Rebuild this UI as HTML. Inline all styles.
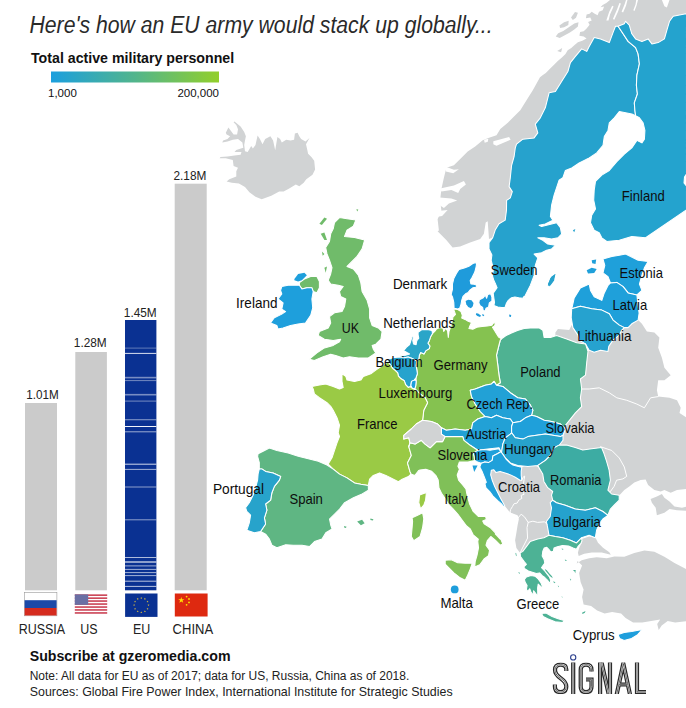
<!DOCTYPE html>
<html><head><meta charset="utf-8">
<style>
html,body{margin:0;padding:0;background:#fff;}
body{width:686px;height:708px;overflow:hidden;}
svg{display:block;font-family:"Liberation Sans",sans-serif;}
</style></head><body>
<svg width="686" height="708" viewBox="0 0 686 708">
<defs>
<linearGradient id="lg" x1="0" x2="1" y1="0" y2="0">
<stop offset="0" stop-color="#1B9FDE"/><stop offset="0.5" stop-color="#52B58C"/><stop offset="1" stop-color="#92CF2B"/>
</linearGradient>
</defs>
<rect width="686" height="708" fill="#fff"/>
<!-- MAP -->
<g fill="#D1D3D4" stroke="none">
<path d="M234.5 121.4 L240.6 126.6 L244.2 131.9 L245.9 136.3 L245 140.6 L244.2 145 L245 151.2 L247.7 152 L251.2 145.9 L252.9 148.5 L255.5 145 L257.6 135.4 L259.9 138.9 L262.5 144.2 L265.2 138.9 L270.4 136.3 L273.1 140.6 L275.2 150.3 L277.4 137.1 L280.1 138.9 L281.8 142.4 L286.2 139.8 L290.6 140.6 L294.1 139.8 L294.9 133.6 L297.6 132.8 L299.3 136.3 L301.1 138.9 L305.5 141.5 L309.5 138 L306 144.2 L307.2 149.4 L308.1 153.8 L311.6 157.3 L314.2 160.8 L315.1 169.5 L312.5 174.8 L306.3 179.2 L303.7 182.7 L299.3 186.2 L295.8 184.4 L288.8 188.8 L283.6 191.4 L279.2 191.4 L271.3 195.8 L261.7 199.3 L255.5 196.7 L249.4 192.3 L245 187.1 L238.9 183.6 L231.9 182.7 L226.6 181.5 L229.3 179.2 L236.3 176.6 L236.3 171.3 L238 167.8 L233.6 166 L232.8 159.9 L225.8 158.2 L219.6 158.2 L220.5 156.9 L227.5 156.4 L234.5 155.5 L240.6 154.7 L241.5 152 L234.5 152 L236.3 149.9 L243.3 147.7 L242.4 142.4 L238 138.9 L232.8 139.8 L227.5 141.5 L222.3 142.4 L223.1 140.6 L227.5 138.9 L230.1 136.3 L226.6 134.5 L225.8 132.8 L228.4 127.5 L231 131 L233.6 134.5 L237.1 134.5 L238 129.3 L236.3 124.9 L233.6 122.3Z"/>
<path d="M610 0 L606.3 2.9 L602.7 5.1 L600.5 7.3 L604.1 6.6 L602.7 10.2 L599 11.7 L597.6 15.3 L594.7 13.8 L591.7 11.7 L589.6 13.8 L586.6 14.6 L585.9 18.2 L590.3 17.5 L591.7 20.4 L588.1 21.9 L589.6 24.8 L586.6 28.4 L583.7 31.3 L580.1 32.1 L579.4 35.7 L583.7 36.4 L586.6 38.6 L582.3 40.8 L577.9 42.3 L574.3 45.2 L571.3 48.1 L567.7 50.3 L565.5 53.9 L561.9 57.6 L557.5 61.2 L553.8 64.9 L550.2 68.5 L545.8 72.9 L542.9 75.1 L540 77.3 L532.8 90.3 L526.5 100.3 L520.3 110.3 L514 116.6 L507.8 122.7 L500.3 129 L496.5 135.2 L489 137.7 L482.7 140.2 L475.2 146.5 L467.7 151.5 L460.2 159 L453.9 165.3 L446.4 167.8 L443.9 177.8 L441.4 189.1 L440.1 200.4 L441.4 210.4 L437.6 219.2 L438.9 230.5 L437.6 231.3 L446.3 240.1 L452.6 247.6 L460.1 246.4 L470.1 242.6 L480.2 238.9 L483.9 233.8 L485.7 222.6 L487.7 221.3 L489 238.9 L492.7 237.6 L495.2 230.1 L499 223.8 L505.2 220.1 L506.5 210 L506.6 200.4 L510.3 197.9 L512.3 191.6 L509.1 186.6 L510.3 177.8 L511.6 165.3 L514.1 156.5 L515.3 147.8 L516.5 144.2 L522.8 139.2 L534.1 137.9 L537.8 132.9 L535.3 124.1 L540.3 117.8 L545.3 107.8 L549.1 92.8 L555.4 91.5 L561.6 81.5 L567.9 71.5 L570.4 62.7 L575.4 56.4 L581.7 48.9 L586.7 51.4 L589.2 46.4 L594.2 37.6 L600.5 38.9 L609.3 42.6 L613 32.6 L615.5 26.3 L618.1 26.3 L624.3 23.8 L625.6 21.3 L629.3 25.1 L631.8 33.8 L635.6 38.9 L641.9 41.4 L648.1 38.9 L651.9 43.9 L658.2 42.6 L664.4 38.9 L666.9 30.1 L669.5 21.3 L673.2 16.3 L679.5 15 L686 13.8 L686 0Z"/>
<path d="M555.4 332.6 L557.9 328.9 L569.2 330.1 L571.7 325.1 L574.2 330.1 L577.9 335.1 L579.2 340.1 L585.5 343.9 L576.7 342.7 L566.7 338.9 L555.4 336.4Z"/>
<path d="M521.8 480.2 L521.2 475.5 L521.2 471.4 L521.8 467.3 L525.9 465.6 L534.1 465.3 L537.6 466.7 L542.7 473.9 L543.9 481.4 L547.7 487.7 L552.7 491.5 L551.5 495.2 L552.7 500.2 L550.2 502.7 L551.5 507.8 L550.2 516.5 L546.4 521.5 L547.7 527.8 L549 535.3 L543.9 537.8 L537.7 539.1 L530.1 541.6 L526.4 546.6 L522.6 551.6 L520.1 552.9 L516.4 547.9 L515.1 540.3 L516.4 532.8 L517.6 525.3 L518.9 519 L517.6 515.3 L510 512.4 L504.8 506 L503.6 503.7 L500.7 498.4 L497.7 492.5 L494.8 486.7 L492.4 480.8 L490.7 474.9 L491.3 470.2 L493.6 469.7 L496 472.6 L500.1 471.4 L505.9 473.2 L510.6 474.9 L515.3 477.3 L520 480.2 L521.8 480.2Z"/>
<path d="M624.3 327.6 L628.1 327.6 L631.8 323.8 L638.1 320.1 L641.9 323.8 L646.9 331.4 L654.4 332.6 L659.4 337.6 L658.2 347.7 L661.9 357.7 L664.4 367.7 L670.7 375.2 L664.4 380.3 L658.2 380.3 L656.9 390.3 L658.2 396.6 L669.5 397.8 L677 400.3 L680.7 407.8 L679.5 412.9 L687 417.9 L687 488.9 L677 490.1 L670.7 492.7 L664.4 490.1 L660.7 491.4 L654.4 490.1 L648.1 485.1 L645.6 479.6 L640.6 480.1 L634.3 482.6 L629.3 486.4 L624.3 490.1 L620.6 493.9 L619.2 495.2 L611.6 494 L607.9 490.2 L610.4 480.2 L609.1 470.1 L606.6 461.4 L604.1 453.8 L601.6 447.6 L601.6 447.6 L591.6 448.8 L582.8 450.1 L575.3 447.6 L566.5 445.1 L559 445.1 L563 440.3 L563 435.3 L565.5 429 L565.4 425.4 L570.4 419.1 L575.4 412.9 L581.7 406.6 L580.4 397.8 L581.7 389 L580.4 379 L585.5 375.2 L586.7 362.7 L588 351.4 L589.2 350.2 L594.2 352.2 L600.5 350.2 L608 351.4 L608.8 346.4 L613 340.1 L619.3 335.1 L621.8 330.1Z"/>
<path d="M650.6 498.9 L656.9 496.4 L661.9 493.9 L664.4 497.7 L669.5 501.4 L674.5 506.4 L682 507.7 L687 506.4 L687 510.7 L677 510.2 L669.5 509 L664.4 512.7 L656.9 515.2 L655.7 507.7 L651.9 502.7Z"/>
<path d="M581.7 539 L589.2 536.5 L595.5 537.8 L598 542.8 L603 547.8 L609.3 552.3 L610.8 554.8 L601.8 552.6 L591.7 552.6 L584.2 553.8 L578.7 556.1 L577.9 552.8 L579.2 547.8 L581.7 542.8Z"/>
<path d="M576.7 563.4 L581.7 560.3 L589.2 558.3 L596.7 557.3 L606.8 558.3 L614.3 556.6 L624.3 556.8 L634.3 553.1 L644.4 550.6 L654.4 551.8 L664.4 556.8 L674.5 563.1 L687 569.4 L687.2 621.1 L675.2 622.6 L667.7 621.1 L661.7 625.6 L658.7 630.1 L657.2 624.1 L660.2 619.6 L651.2 621.1 L642.2 622.6 L633.1 622.6 L625.6 618.1 L621.1 613.6 L612.1 612.1 L604.6 613.6 L597.1 610.6 L591.1 606.1 L583.6 604.6 L582.1 597.1 L583.6 589.5 L580.6 582 L579.1 573 L582.1 565.5 L577.6 561Z"/>
</g>
<g fill="#D1D3D4" stroke="none">
<path d="M555.7 36.4 L558.2 33.2 L563.3 30.9 L568.4 27.4 L574.3 23.6 L578.5 22.2 L577.9 26.5 L574.3 29.4 L569.9 32.4 L564.8 35.3 L559.7 37.9Z"/>
<path d="M559.4 25.5 L564.1 22.3 L568.7 20.8 L568.3 25.1 L564.1 27.3 L560.1 28Z"/>
<path d="M571 17.5 L575 12.1 L577.9 12.8 L576 17.8 L572.8 20Z"/>
<path d="M557.2 51 L562.2 48.1 L561.1 52.2Z"/>
</g>
<g stroke="#fff" stroke-width="1.05" stroke-linejoin="round">
<path fill="#26A2CD" d="M492.7 237.6 L495.2 230.1 L499 223.8 L505.2 220.1 L506.5 210 L506.6 200.4 L510.3 197.9 L512.3 191.6 L509.1 186.6 L510.3 177.8 L511.6 165.3 L514.1 156.5 L515.3 147.8 L516.5 144.2 L522.8 139.2 L534.1 137.9 L537.8 132.9 L535.3 124.1 L540.3 117.8 L545.3 107.8 L549.1 92.8 L555.4 91.5 L561.6 81.5 L567.9 71.5 L570.4 62.7 L575.4 56.4 L581.7 48.9 L586.7 51.4 L589.2 46.4 L594.2 37.6 L600.5 38.9 L609.3 42.6 L613 32.6 L615.5 26.3 L618.1 26.3 L623.1 33.8 L628.1 41.4 L635.6 47.6 L638.1 53.9 L639.4 63.9 L636.9 75.2 L636.4 85.2 L637.4 94 L634.3 102.8 L634.9 110.3 L635.6 115.8 L631.8 114.1 L625.6 112.8 L619.3 111.6 L614.3 117.8 L609.3 122.9 L608 130.4 L604.3 136.6 L603 145.4 L596.7 152.9 L589.2 158 L579.2 163 L571.7 168 L565.4 170.5 L562.9 177.6 L559.1 180.1 L556.6 187.6 L554.1 195.1 L551.6 205.2 L550.4 216.4 L552.9 220.2 L545.3 224 L539.1 225.2 L541.6 226.5 L551.6 224 L556.6 222.7 L560.4 227.7 L561.6 234 L557.9 237.8 L551.6 239 L544.1 237.8 L537.8 237.8 L542.8 240.3 L547.8 244 L555.4 245.3 L551.6 249 L546.6 250.3 L541.6 252.8 L534.1 254.1 L537.8 257.8 L535.3 265.3 L534.1 275.4 L530.3 285.4 L524 297.9 L524.1 296.4 L522.8 298.3 L518.8 297.7 L514.9 297 L511.6 297.7 L508.3 300.3 L506.3 303.6 L505 307.5 L501.7 307.5 L497.8 306.9 L493.9 305.6 L494.5 302.3 L493.9 298.3 L493.2 293.1 L495.2 290.5 L497.1 287.8 L495.8 284.6 L493.9 280.6 L492.5 276 L493.2 270.8 L492.5 265.5 L491.2 260.3 L491.9 255 L489 248.9 L489 242.6 L492.7 237.6Z"/>
<path fill="#26A2CD" stroke="none" d="M547.9 284 L551.6 276.5 L555.4 274 L552.9 281.5 L549.1 286.5Z"/>
<path fill="#26A2CD" stroke="none" d="M547.8 285.4 L550.4 277.9 L555.4 274.1 L554.1 280.4 L550.4 285.4Z"/>
<path fill="#24A3CE" d="M618.1 26.3 L624.3 23.8 L625.6 21.3 L629.3 25.1 L631.8 33.8 L635.6 38.9 L641.9 41.4 L648.1 38.9 L651.9 43.9 L658.2 42.6 L664.4 38.9 L666.9 30.1 L669.5 21.3 L673.2 16.3 L679.5 15 L686 13.8 L686.5 13.8 L686.5 174 L684.5 177 L684 183 L686.5 186 L686.5 210.2 L686 210.2 L645.6 237.8 L631.8 236.5 L619.3 240.3 L606.8 241.5 L601.8 237.8 L599.2 232.7 L594.2 230.2 L590.5 222.7 L591.7 215.2 L595.5 208.9 L593.7 200.1 L594.2 190.1 L595.5 181.3 L601.8 175.1 L609.3 170.5 L616.8 161.7 L624.3 154.2 L631.8 147.9 L636.9 140.4 L641.9 142.9 L644.4 139.2 L644.9 130.4 L643.1 122.9 L639.4 117.8 L635.6 115.8 L634.9 110.3 L634.3 102.8 L637.4 94 L636.4 85.2 L636.9 75.2 L639.4 63.9 L638.1 53.9 L635.6 47.6 L628.1 41.4 L623.1 33.8 L618.1 26.3Z"/>
<path fill="#24A3CE" stroke="none" d="M572.9 230.2 L575.4 229 L574.2 232.2Z"/>
<path fill="#1FA0DA" d="M603 259.1 L611.8 256.6 L619.3 255.3 L625.6 254.1 L630.6 256.6 L638.1 260.3 L648.1 261.6 L644.4 267.8 L641.9 275.4 L639.4 284.1 L641.9 290.4 L636.9 294.9 L628.1 292.9 L623.1 286.6 L616.8 282.4 L610.5 282.9 L608 276.6 L603 272.9 L604.8 265.3Z"/>
<path fill="#1FA0DA" stroke="none" d="M591.7 260.3 L596.2 259.6 L595.5 264.1 L592.2 263.3Z"/>
<path fill="#1FA0DA" stroke="none" d="M586.7 270.3 L591.7 267.8 L596.7 269.1 L594.2 272.9 L588 273.4Z"/>
<path fill="#1FA0DA" d="M571.7 309.2 L574.2 297.9 L580.4 287.9 L589.2 284.1 L590.5 290.4 L594.2 296.7 L601.8 300.4 L604.3 292.9 L608 285.4 L610.5 282.9 L616.8 282.4 L623.1 286.6 L628.1 292.9 L636.9 294.9 L638.1 305.5 L639.4 315.5 L639.4 311.3 L638.1 320.1 L631.8 323.8 L628.1 327.6 L624.3 327.6 L619.3 325.1 L613 320.1 L609.3 313.8 L601.8 310.1 L591.7 308.8 L580.4 306.3 L571.7 308.8Z"/>
<path fill="#26A2CF" d="M571.7 308.8 L580.4 306.3 L591.7 308.8 L601.8 310.1 L609.3 313.8 L613 320.1 L619.3 325.1 L624.3 327.6 L621.8 330.1 L619.3 335.1 L613 340.1 L608.8 346.4 L608 351.4 L600.5 350.2 L594.2 352.2 L589.2 350.2 L585.5 343.9 L579.2 340.1 L577.9 335.1 L572.9 327.6 L571.2 317.6Z"/>
<path fill="#1F9BDB" d="M476.8 262.2 L476.1 266.8 L474.8 272.1 L472.2 277.3 L470.2 280.6 L470.9 283.9 L474.2 284.2 L476.8 285.2 L476.1 287.2 L472.8 287.8 L470.2 289.8 L468.2 292.4 L465.6 293.8 L463 296.4 L461.7 300.3 L461 304.3 L459.7 308.2 L457.7 309.1 L454.1 308.2 L453.8 302.3 L452.5 297 L451.2 294.4 L452.5 289.2 L452.5 283.9 L453.8 278.6 L456.4 273.4 L459 269.4 L464.3 268.1 L468.9 266.2 L472.8 263.5Z"/>
<path fill="#1F9BDB" stroke="none" d="M465.6 301 L468.2 299.7 L471.5 300.3 L473.5 302.9 L472.8 306.2 L470.9 308.2 L468.2 306.9 L466.3 304.3Z"/>
<path fill="#1F9BDB" d="M479.4 299.7 L483.3 297.7 L485.3 295.1 L486.6 298.3 L487.9 294.4 L490.6 293.8 L491.9 297 L491.9 301 L489.3 302.9 L488.6 306.9 L486 308.2 L485.3 310.8 L483.3 310.8 L482.7 307.5 L480.1 305.6 L478.8 302.9Z"/>
<path fill="#1F9BDB" stroke="none" d="M476.1 313.2 L478.1 313.6 L481 315.4 L480.1 317 L477.4 315.9 L475.9 314.8Z"/>
<path fill="#1F9BDB" stroke="none" d="M482.3 314.1 L484.3 315 L483.5 316.3 L482.3 315.4Z"/>
<path fill="#1F9BDB" stroke="none" d="M509.1 314.5 L511.2 315 L510.9 317 L509.4 316.7Z"/>
<path fill="#4FB292" d="M501.5 338.8 L505.7 335.8 L510.9 333.2 L517.5 330.5 L524.1 328.6 L530.3 327.9 L539.1 327.9 L542.9 330.4 L544.1 337.4 L550.4 337.4 L556.6 335.4 L566.7 338.9 L576.7 342.7 L585.5 343.9 L588 351.4 L586.7 362.7 L585.5 375.2 L580.4 379 L581.7 389 L580.4 397.8 L581.7 406.6 L575.4 412.9 L570.4 419.1 L565.4 425.4 L565.5 429 L560.5 424 L551.7 421.5 L544.2 420.3 L536.6 416.5 L531.6 415.2 L532.9 410.2 L530.4 405.2 L525.4 399 L517.8 397.7 L510.3 392.7 L502.8 386.4 L496.5 385.2 L500.3 382.7 L499 375.1 L497.8 365.1 L496.5 355.1 L499 345 L500.3 340 L501.5 338.8Z"/>
<path fill="#85C250" d="M432.5 333.5 L435.2 330.9 L436.5 328.9 L439.8 327.6 L443.1 328.2 L443.7 331.5 L445.7 328.2 L447.6 330.9 L448.3 337.4 L449 331.5 L450.9 326.3 L452.2 321.7 L452.9 317.1 L455.5 314.4 L453.6 309.2 L453.8 308.9 L457.7 309.5 L461 311.5 L462.3 315.4 L461.7 318.1 L465 319.4 L468.2 321.3 L471.5 322.6 L469.6 326.6 L468.9 328.6 L472.8 329.2 L476.8 327.2 L482 326.6 L487.3 325.9 L491.9 325.3 L493.2 323.3 L495.8 322.6 L494.5 325.9 L492.5 327.2 L494.5 330.5 L496.5 333.8 L498.5 337.1 L501.5 338.8 L500.3 340 L499 345 L496.5 355.1 L497.8 365.1 L499 375.1 L500.3 382.7 L496.5 385.2 L494 381.4 L491.5 383.9 L485.2 385.2 L475.2 388.9 L470.2 390.2 L471.5 396.4 L475.2 404 L480.2 411.5 L485.2 416.5 L477.7 419 L472.7 422.8 L471.5 429 L465.2 430.3 L455.2 429 L446.4 430.3 L441.4 427.8 L437.6 424 L431.3 421.5 L422.6 420.3 L423.8 410.2 L427.6 402.7 L425.1 397.7 L420.1 393.9 L416.3 390.2 L414.8 388.7 L415.7 386 L416.1 382.1 L416.1 380.4 L416.1 377.5 L417.4 373.6 L416.8 369.6 L416.1 365.7 L416.8 361.1 L418.8 359.1 L419.4 355.2 L420.7 352.5 L424 353.9 L426 350.6 L429.3 348.6 L429.9 346 L427.9 343.3 L429.3 340.7 L430.6 336.8 L432.5 333.5Z"/>
<path fill="#2AA5C8" d="M418.1 332.2 L422 329.6 L427.3 329.6 L431.9 330.5 L432.5 333.5 L430.6 336.8 L429.3 340.7 L427.9 343.3 L429.9 346 L429.3 348.6 L426 350.6 L424 353.9 L420.7 352.5 L419.4 355.2 L418.8 359.1 L416.8 361.1 L412.2 358.5 L408.2 357.1 L404.3 357.8 L399.7 357.1 L400.4 355.8 L405.6 355.2 L409.6 353.9 L406.9 352.5 L403.6 350.6 L406.3 347.3 L409.6 344.7 L410.9 340.7 L412.2 336.1 L413.5 336.1 L412.8 340.7 L413.5 344 L416.1 344.7 L416.8 340.7 L418.8 338.1 L418.1 334.8Z"/>
<path fill="#27A3CD" d="M387.9 359.8 L392.5 357.8 L399.7 357.1 L404.3 357.8 L408.2 357.1 L412.2 358.5 L416.8 361.1 L416.1 365.7 L416.8 369.6 L417.4 373.6 L416.1 377.5 L414.2 380.1 L411.5 381.4 L410.9 385.4 L410.2 386.7 L408.2 387.4 L405.6 384.7 L404.3 380.8 L401 378.8 L398.4 376.2 L397.7 372.9 L395.1 370.3 L392.5 368.3 L390.5 365 L387.9 361.7Z"/>
<path fill="#1E9EDC" d="M411.5 381.4 L414.2 380.1 L416.1 380.4 L416.1 382.1 L415.7 386 L414.8 388.7 L412.2 388.3 L410.9 385.4Z"/>
<path fill="#22A1D6" d="M485.2 416.5 L480.2 411.5 L475.2 404 L471.5 396.4 L470.2 390.2 L475.2 388.9 L485.2 385.2 L491.5 383.9 L494 381.4 L496.5 385.2 L502.8 386.4 L510.3 392.7 L517.8 397.7 L525.4 399 L530.4 405.2 L532.9 410.2 L531.6 415.2 L525.4 417.8 L520.3 421.5 L512.8 422.8 L510.3 419 L502.8 417.8 L496.5 415.2 L491.5 417.8 L485.2 416.5Z"/>
<path fill="#22A1D6" d="M441.4 427.8 L446.4 430.3 L455.2 429 L465.2 430.3 L471.5 429 L472.7 422.8 L477.7 419 L485.2 416.5 L491.5 417.8 L496.5 415.2 L502.8 417.8 L510.3 419 L512.8 422.8 L511.6 426.5 L511.6 432.8 L510.3 434.1 L505.3 437.8 L502.8 444.1 L501.5 452.9 L499 447.8 L487.8 449.1 L477.7 450.3 L470.2 445.3 L463.9 440.3 L462.7 436.6 L453.9 436.6 L445.1 436.6 L441.4 434.1Z"/>
<path fill="#1FA0DA" d="M511.6 432.8 L511.6 426.5 L512.8 422.8 L520.3 421.5 L525.4 417.8 L531.6 415.2 L536.6 416.5 L544.2 420.3 L551.7 421.5 L560.5 424 L565.5 429 L563 435.3 L560.5 436.6 L552.9 435.3 L545.4 434.1 L536.6 435.3 L527.9 436.6 L522.9 439.1 L515.3 437.8Z"/>
<path fill="#27A2CC" d="M511.6 432.8 L515.3 437.8 L522.9 439.1 L527.9 436.6 L536.6 435.3 L545.4 434.1 L552.9 435.3 L560.5 436.6 L563 435.3 L563 440.3 L559.2 445.3 L554.2 447.8 L550.4 455.4 L545.4 460.4 L537.9 465.4 L527.9 466.6 L517.8 465.4 L510.3 462.9 L505.3 457.9 L501.5 452.9 L502.8 444.1 L505.3 437.8 L510.3 434.1Z"/>
<path fill="#1FA0DA" d="M473.2 450.9 L478.3 450.2 L484.1 449.5 L490 450.2 L498.7 448.7 L500.9 451.7 L497.3 453.8 L492.9 456 L492.2 460.4 L488.5 462.6 L484.9 461.9 L481.2 463.3 L477.6 461.9 L474.7 460.4 L473.9 456 L473.2 453.1Z"/>
<path fill="#1FA0DA" d="M500.9 451.7 L503.1 454.6 L506 459 L510.4 463.3 L513 465 L516.5 466.1 L521.8 467.3 L521.2 471.4 L521.2 475.5 L521.8 480.2 L520 480.2 L515.3 477.3 L510.6 474.9 L505.9 473.2 L500.1 471.4 L496 472.6 L493.6 469.7 L491.3 470.2 L490.7 474.9 L492.4 480.8 L494.8 486.7 L497.7 492.5 L500.7 498.4 L503.6 503.7 L504.8 506 L503.6 506.6 L501.8 504.2 L497.7 500.7 L493 496 L489.5 491.3 L486 487.8 L484.9 483.7 L486.3 482.3 L484.1 476.4 L482 471.3 L479.8 467 L481.2 463.3 L484.9 461.9 L488.5 462.6 L492.2 460.4 L492.9 456 L497.3 453.8Z"/>
<path fill="#1FA0DA" stroke="none" d="M472.5 465.5 L477.6 465.5 L474.2 472.1Z"/>
<path fill="#70BB6A" d="M339.5 217.6 L347 218.8 L355.8 220.1 L353.3 226.3 L347 230.1 L344.5 236.4 L354.5 237.6 L364.6 240.1 L362.1 248.9 L357 256.4 L352 261.4 L347 266.4 L353.3 269 L358.3 275.2 L360.8 282.7 L362.1 291.5 L367.1 300.3 L369.6 309.1 L369.6 317.8 L372.1 325.4 L378.3 327.9 L382.1 331.6 L380.9 339.2 L375.8 344.2 L372.1 345.4 L373.3 349.2 L375.8 352.9 L368.3 358 L358.3 358 L349.5 356.7 L343.2 358 L335.7 355.5 L330.7 354.2 L323.2 356.7 L314.4 360.5 L309.4 359.2 L316.9 352.9 L324.4 347.9 L333.2 345.4 L339.5 341.7 L340.7 339.2 L333.2 340.4 L324.4 339.2 L318.2 335.4 L319.4 331.6 L328.2 327.9 L330.7 322.9 L329.5 316.6 L334.5 312.8 L342 311.6 L344.5 306.6 L345.8 299 L340.7 296.5 L339.5 291.5 L343.2 286.5 L338.2 285.2 L330.7 284 L328.2 280.2 L330.7 274 L332 267.7 L329.5 260.2 L327 253.9 L325.7 247.6 L329.5 241.4 L330.7 233.8 L333.2 228.8 L334.5 222.6Z"/>
<path fill="#70BB6A" stroke="none" d="M319.4 223.8 L324.4 217.6 L327 218.8 L321.9 225.1Z"/>
<path fill="#70BB6A" stroke="none" d="M320.7 233.8 L324.4 232.6 L327 240.1 L324.4 240.1Z"/>
<path fill="#70BB6A" stroke="none" d="M321.9 251.4 L324.4 253.9 L322.7 255.7Z"/>
<path fill="#70BB6A" stroke="none" d="M324.4 267.7 L327 266.4 L325.7 272.7Z"/>
<path fill="#70BB6A" stroke="none" d="M356.3 209.3 L358.3 209.5 L357.3 211.5Z"/>
<path fill="#70BB6A" d="M299.4 282.7 L304.4 279 L310.7 276.5 L316.9 276.5 L319.4 281.5 L319.4 287.8 L316.9 292.8 L313.2 291.5 L311.9 287.8 L306.9 287.8 L301.9 289 L299.4 285.2Z"/>
<path fill="#1E9FDC" d="M281.8 286.5 L288.1 285.2 L294.4 285.2 L299.4 285.2 L301.9 289 L306.9 287.8 L311.9 287.8 L313.2 291.5 L311.9 299 L312.7 307.8 L310.7 315.3 L305.6 322.9 L298.1 324.1 L290.6 325.4 L283.1 327.9 L278.1 329.1 L276.8 325.4 L270.5 322.9 L274.3 317.8 L281.8 314.1 L285.6 311.6 L281.8 309.1 L283.1 302.8 L278.1 299 L281.8 294 L280.6 290.3Z"/>
<path fill="#1E9FDC" stroke="none" d="M294.4 279 L298.1 274 L304.4 272.7 L306.9 275.2 L301.9 280.2 L298.1 281.5 L294.4 280.2Z"/>
<path fill="#9ACA45" d="M375.8 370.1 L370.8 373.8 L363.3 376.4 L360.8 380.1 L354.5 381.4 L347 380.1 L345.8 376.4 L342 373.8 L342 381.4 L343.2 387.6 L339.5 388.9 L333.2 386.4 L325.7 383.9 L319.4 385.1 L311.9 386.4 L313.2 388.9 L314.4 393.9 L319.4 397.7 L327 402.7 L330.7 406.4 L333.2 410.2 L337 417.7 L339.5 425.2 L338.2 432.8 L339.5 436.5 L337 442.8 L334.5 450.3 L332 457.8 L328.2 464.1 L333.2 469.1 L339.5 474.1 L347 477.9 L354.5 482.9 L360.8 484.2 L368.3 485.4 L369.6 479.2 L373.3 475.4 L379.6 472.9 L385.9 475.4 L393.4 479.2 L398.4 481.7 L402.2 479.2 L408.4 476.6 L412.2 472.9 L411.3 474.2 L410 471.7 L407.5 462.9 L411.3 455.4 L408.8 446.6 L410 442.8 L408.8 437.8 L403.8 439.1 L403.8 435.3 L411.3 429 L416.3 424 L422.6 420.3 L423.8 410.2 L427.6 402.7 L425.1 397.7 L420.1 393.9 L416.3 390.2 L412.2 388.3 L410.2 386.7 L408.2 387.4 L405.6 384.7 L404.3 380.8 L401 378.8 L398.4 376.2 L397.7 372.9 L395.1 370.3 L392.5 368.3 L390.5 365 L387.9 361.7Z"/>
<path fill="#9ACA45" d="M419.6 495.1 L426.4 492.6 L425.6 500.1 L423.8 505.1 L420.6 508.9 L418.8 502.6Z"/>
<path fill="#5FB683" d="M259.3 468.9 L259.3 462.6 L257.6 456.3 L258.1 453.8 L263.1 451.3 L269.4 448.1 L276.9 450.6 L288.2 453.1 L298.2 456.3 L308.2 458.8 L318.3 461.3 L327 465.1 L333.2 469.1 L339.5 474.1 L347 477.9 L354.5 482.9 L360.8 484.2 L368.3 485.4 L368.4 490.2 L362.1 493.9 L353.4 497.7 L344.6 502.7 L339.6 509 L334.6 514 L329.5 519 L330.8 525.3 L332.1 529 L325.8 532.8 L322 539.1 L314.5 541.6 L309.5 546.6 L302 545.3 L293.2 545.3 L285.7 544.8 L276.9 547.8 L271.9 545.3 L269.4 539.1 L265.6 534.1 L260.6 531.5 L265.6 524 L264.4 517.8 L266.9 510.2 L265.6 504 L270.6 500.2 L271.9 492.7 L274.4 486.4 L279.4 480.1 L280.7 476.4 L273.1 473.1 L265.6 471.4 L261.8 468.9Z"/>
<path fill="#5FB683" stroke="none" d="M357.1 521.5 L362.1 519.8 L364.6 523.3 L360.9 525.3Z"/>
<path fill="#5FB683" stroke="none" d="M370.4 518.5 L373.4 519.3 L372.9 520.5 L370.4 520Z"/>
<path fill="#5FB683" stroke="none" d="M344.1 526 L346.6 526.8 L345.8 528 L344.1 527.5Z"/>
<path fill="#27A3CB" d="M259.3 468.9 L261.8 468.9 L265.6 471.4 L273.1 473.1 L280.7 476.4 L279.4 480.1 L274.4 486.4 L271.9 492.7 L270.6 500.2 L265.6 504 L266.9 510.2 L264.4 517.8 L265.6 524 L260.6 531.5 L254.3 532.8 L246.8 530.3 L249.3 522.8 L250.6 515.2 L246.8 511.5 L245.6 507.7 L249.3 502.7 L253.1 495.2 L255.6 487.7 L257.6 480.1 L258.1 473.9Z"/>
<path fill="#80C058" d="M411.3 474.2 L410 471.7 L407.5 462.9 L411.3 455.4 L408.8 446.6 L410 442.8 L415 444.1 L421.3 440.3 L425.1 444.1 L430.1 447.8 L436.4 441.6 L442.6 441.6 L445.1 436.6 L453.9 436.6 L462.7 436.6 L463.9 440.3 L470.2 445.3 L477.7 450.3 L473.2 453.1 L473.9 456 L474.7 460.4 L468.1 461.9 L459.4 461.9 L457.9 466.2 L459.4 469.2 L457.2 475 L458.6 480.1 L462.3 484.5 L465.9 488.8 L466.9 493.9 L468.1 498.3 L469.6 504.1 L473.2 511.4 L478.3 516.5 L485.6 516.5 L486.3 519.4 L482.7 520.9 L484.1 523.8 L490 527.5 L495.8 533.3 L500.2 539.1 L495.3 534 L500.3 537.7 L502.8 544 L500.3 545.2 L495.3 540.2 L490.8 536.5 L487.3 540.7 L486 545.2 L489.5 550.3 L488.5 555.8 L484 559 L479.8 564.8 L474.7 567.1 L475.2 561.5 L477 555.3 L478.5 547.8 L477.8 541.5 L478.3 539.1 L473.2 534.8 L470.3 528.9 L466.6 526 L462.3 520.2 L457.9 514.3 L452.8 508.5 L448.4 504.1 L445.5 499 L441.9 493.9 L439 488.1 L438.2 480.1 L436 475.7 L431.7 471.3 L425.8 469.2 L420 469.9 L418.8 470.4 L415 475.4Z"/>
<path fill="#80C058" d="M445.2 560.3 L451.4 559.8 L457.7 562.8 L465.2 563.3 L472.2 563.3 L470.2 569.1 L467.7 575.3 L465.2 580.3 L460.2 577.8 L453.9 572.8 L448.9 567.8 L445.2 564.1Z"/>
<path fill="#80C058" d="M412.1 517.7 L417.6 515.2 L422.6 512.7 L423.8 518.9 L422.6 527.7 L420.1 536.5 L413.8 540.7 L411.3 536.5 L412.1 527.7 L412.6 521.4Z"/>
<path fill="#3DACA3" d="M559 445.1 L566.5 445.1 L575.3 447.6 L582.8 450.1 L591.6 448.8 L601.6 447.6 L604.1 453.8 L606.6 461.4 L609.1 470.1 L610.4 480.2 L607.9 490.2 L611.6 494 L619.2 495.2 L619.2 500.2 L614.1 505.2 L610.4 509 L607.9 515.3 L602.9 511.5 L595.3 507.8 L585.3 510.3 L575.3 509 L565.2 505.2 L556.5 502.7 L552.7 500.2 L551.5 495.2 L552.7 491.5 L547.7 487.7 L543.9 481.4 L542.7 473.9 L538.9 467.6 L537.9 465.4 L545.4 460.4 L550.4 455.4 L554.2 447.8Z"/>
<path fill="#25A2CD" d="M552.7 500.2 L556.5 502.7 L565.2 505.2 L575.3 509 L585.3 510.3 L595.3 507.8 L602.9 511.5 L607.9 515.3 L602.9 519 L599.1 524.1 L596.6 530.3 L595.3 537.8 L589.1 535.3 L581.5 537.8 L576.5 542.9 L570.3 540.3 L562.7 537.8 L555.2 536.6 L549 535.3 L547.7 527.8 L546.4 521.5 L550.2 516.5 L551.5 507.8 L550.2 502.7Z"/>
<path fill="#4DB295" d="M520.1 552.9 L522.6 551.6 L526.4 546.6 L530.1 541.6 L537.7 539.1 L543.9 537.8 L549 535.3 L555.2 536.6 L562.7 537.8 L570.3 540.3 L576.5 542.9 L581.5 537.8 L582 540.8 L580.9 543.4 L578.3 546 L576.3 549.3 L573.1 548 L568.5 546 L562.5 545.4 L557.3 546.7 L554 548 L553.3 551.3 L550.7 551.9 L548.8 549.3 L546.8 547.3 L544.2 548 L542.8 551.3 L542.2 555.9 L544.2 559.8 L544.8 563.1 L542.8 565.7 L541.5 567.7 L544.2 570.3 L546.8 573.6 L549.4 576.9 L550.7 580.2 L550.1 583.5 L547.4 580.2 L544.8 577.5 L542.2 575.6 L539.6 572.9 L536.3 573.6 L532.3 572.3 L528.4 571 L525.1 569 L523.8 567 L526.4 564.4 L524.4 561.8 L522.5 559.2 L520.5 556.5Z"/>
<path fill="#4DB295" stroke="none" d="M544.8 569 L546.8 570.3 L549.4 573.6 L552 576.2 L552.7 578.2 L550.1 576.2 L547.4 572.9 L545.2 570.3Z"/>
<path fill="#4DB295" d="M524.4 579.5 L526.4 576.9 L531 575.6 L535 576.2 L538.2 578.9 L540.9 582.8 L542.8 587.4 L540.9 586.7 L538.2 584.1 L537.6 588.1 L537.8 596.6 L535.6 593.3 L533.6 590.7 L533 595.3 L531 592 L529.7 588.7 L527.7 591.3 L526.4 589.4 L527.1 585.4 L525.1 582.1Z"/>
<path fill="#4DB295" stroke="none" d="M515.3 552.8 L516.2 553.6 L516.8 556.3 L515.9 555.5Z"/>
<path fill="#4DB295" stroke="none" d="M518.3 572 L519.5 572.6 L520 573.9 L518.9 573.3Z"/>
<path fill="#4DB295" stroke="none" d="M553.3 581.2 L555.3 582.3 L554.9 583.2 L553.5 582.3Z"/>
<path fill="#4DB295" stroke="none" d="M572.8 570.1 L575.7 570.1 L575.3 573.2 L574.4 571.2Z"/>
<path fill="#4DB295" stroke="none" d="M564.9 559.5 L566.7 560.2 L566.2 561 L565 560.5Z"/>
<path fill="#4DB295" stroke="none" d="M561.6 548.4 L563.5 549 L562.9 549.8 L561.8 549.3Z"/>
<path fill="#4DB295" stroke="none" d="M569.8 578.6 L571.2 579.6 L570.7 580.7Z"/>
<path fill="#4DB295" stroke="none" d="M557.7 585.4 L559 586.2 L558.6 587.3Z"/>
<path fill="#4DB295" stroke="none" d="M582 612.7 L585.5 611 L584.9 612.7 L582.5 614.1Z"/>
<path fill="#4DB295" stroke="none" d="M561.2 596.6 L562.8 597 L562.3 597.6Z"/>
<path fill="#4DB295" d="M541.6 613.6 L546.1 613 L552.1 616.6 L558.1 618.7 L564.1 620.5 L562.6 622.6 L555.1 621.7 L547.6 618.7 L543.1 616.6Z"/>
<path fill="#1E9EDC" d="M618.1 634.6 L624.1 632.5 L631.6 631.6 L642.2 629.5 L637.7 634.6 L631.6 638.5 L624.1 640.6 L619.6 638.5Z"/>
<circle cx="454.7" cy="589.4" r="3.9" fill="#1E9EDC" stroke="none"/>
</g>
<g fill="#D1D3D4" stroke="#fff" stroke-width="1.05" stroke-linejoin="round">
<path d="M408.8 446.6 L410 442.8 L408.8 437.8 L403.8 439.1 L403.8 435.3 L411.3 429 L416.3 424 L422.6 420.3 L431.3 421.5 L437.6 424 L441.4 427.8 L441.4 434.1 L445.1 436.6 L442.6 441.6 L436.4 441.6 L430.1 447.8 L425.1 444.1 L421.3 440.3 L415 444.1 L410 442.8Z"/>
</g>
<g fill="none" stroke="#fff" stroke-width="1.0" stroke-linejoin="round" stroke-linecap="round">
<path d="M521.8 480.2 L523.5 476.7 L524.7 476.1 L524.1 479.6 L523.5 483.1 L524.7 487.8 L523.5 492.5 L524.1 494.3 L521.2 495.4 L521.8 498.4 L518.8 500.1 L517.1 503.1 L514.1 503.7 L512.4 506.6 L510.6 509.5 L510 512.4"/>
<path d="M510 512.4 L514.1 515.4 L517.7 518.3 L521.2 514.2 L524.7 517.1 L528.2 522.4 L527 527.7 L527.6 538 L519.9 553.2"/>
<path d="M528.2 522.4 L532.9 521.2 L537.6 522.4 L544.6 521.8 L547 524.2"/>
<path d="M581.7 389 L589.2 389 L599.2 387.8 L609.3 392.8 L616.8 397.8 L626.8 400.3 L636.9 404.1 L644.4 407.8 L650.6 397.8 L658.2 396.6"/>
<path d="M600.5 446.7 L611.8 450.5 L619.3 458 L624.3 467 L626.7 476.4 L622.9 478.9 L616.6 480.2 L614.1 486.4 L610.4 491.5"/>
</g>
<g fill="#fff" stroke="none">
<path d="M606.3 20.4 L609.2 11.7 L612.2 5.8 L613.6 6.6 L610 14.6 L608.5 20.4Z"/>
<path d="M612.9 19 L617.3 8.7 L619.4 2.9 L620.9 3.6 L618 11.7 L614.3 19.7Z"/>
<path d="M621.6 11.7 L624.5 4.4 L626 0 L627.5 0 L626 5.8 L623.1 12.4Z"/>
<path d="M633.3 10.2 L635.5 4.4 L636.2 0 L638 0 L636.5 5.8 L634.5 10.9Z"/>
<path d="M661.9 0 L664.4 6.3 L666.9 7.5 L669.5 0Z"/>
<path d="M493.3 141.2 L509.1 137 L510.6 139.7 L496.5 145.7 L493.3 144.2Z"/>
<path d="M484 139.7 L488.3 138.7 L487.8 141.7 L484.7 142.7Z"/>
<path d="M440.1 188.4 L453.9 185.4 L463.9 180.9 L465.9 184.4 L460.2 189.1 L458.2 192.9 L451.4 189.9 L441.4 191.6Z"/>
<path d="M439.6 197.4 L451.4 198.4 L457.2 200.4 L448.9 203.4 L443.9 207.9 L440.1 205.4Z"/>
<path d="M437.6 210.9 L447.6 209.9 L442.1 216 L437.6 216.7Z"/>
<path d="M445.1 166.6 L453.9 169.8 L458.9 169.3 L453.2 173.3 L445.9 171.6Z"/>
</g>
<!-- map labels -->
<g font-size="14" fill="#0d0d0d">
<text transform="translate(621.8,200.7) scale(0.935,1)">Finland</text>
<text transform="translate(490.8,274.5) scale(0.922,1)">Sweden</text>
<text transform="translate(619.6,277.7) scale(0.927,1)">Estonia</text>
<text transform="translate(612.5,310.0) scale(0.931,1)">Latvia</text>
<text transform="translate(577.2,341.4) scale(0.955,1)">Lithuania</text>
<text transform="translate(392.9,289) scale(0.958,1)">Denmark</text>
<text transform="translate(236.1,307.9) scale(0.967,1)">Ireland</text>
<text transform="translate(341.8,332.5) scale(0.887,1)">UK</text>
<text transform="translate(383.2,327.8) scale(0.954,1)">Netherlands</text>
<text transform="translate(375.4,366.9) scale(0.934,1)">Belgium</text>
<text transform="translate(433.6,370.1) scale(0.938,1)">Germany</text>
<text transform="translate(378.6,398.2) scale(0.948,1)">Luxembourg</text>
<text transform="translate(520.2,377.1) scale(0.926,1)">Poland</text>
<text transform="translate(466.6,408.9) scale(0.908,1)">Czech Rep.</text>
<text transform="translate(357.0,429) scale(0.933,1)">France</text>
<text transform="translate(465.8,438.9) scale(0.933,1)">Austria</text>
<text transform="translate(545.4,432.5) scale(0.930,1)">Slovakia</text>
<text transform="translate(504.1,454) scale(0.960,1)">Hungary</text>
<text transform="translate(437.6,459.8) scale(0.927,1)">Slovenia</text>
<text transform="translate(549.9,484.7) scale(0.922,1)">Romania</text>
<text transform="translate(498.1,492) scale(0.929,1)">Croatia</text>
<text transform="translate(212.9,494.2) scale(0.981,1)">Portugal</text>
<text transform="translate(289.5,503.6) scale(0.933,1)">Spain</text>
<text transform="translate(444.6,503.6) scale(0.894,1)">Italy</text>
<text transform="translate(552.8,527) scale(0.937,1)">Bulgaria</text>
<text transform="translate(440.4,607.7) scale(0.950,1)">Malta</text>
<text transform="translate(516.6,608.9) scale(0.933,1)">Greece</text>
<text transform="translate(572.8,640.4) scale(0.946,1)">Cyprus</text>
</g>
<!-- title -->
<text transform="translate(29.5,33) scale(0.891,1)" font-size="23.8" font-style="italic" fill="#2a2a2a">Here's how an EU army would stack up globally...</text>
<!-- legend -->
<text transform="translate(31,63) scale(1.0,1)" font-size="14.2" font-weight="bold" fill="#111">Total active military personnel</text>
<rect x="51" y="71.5" width="168" height="11" fill="url(#lg)"/>
<g font-size="11.5" fill="#111">
<text x="48" y="97">1,000</text>
<text x="219" y="97" text-anchor="end">200,000</text>
</g>
<!-- bars -->
<g fill="#CBCBCB">
<rect x="25" y="403" width="32" height="187.3"/>
<rect x="75.3" y="352" width="31.6" height="238.3"/>
<rect x="174.7" y="183.7" width="32" height="406.6"/>
</g>
<rect x="125" y="320" width="31.4" height="270.3" fill="#0A3192"/>
<g stroke="#fff" fill="none">
<line x1="125" x2="156.4" y1="348.1" y2="348.1" stroke-width="0.8" stroke-opacity="0.45"/>
<line x1="125" x2="156.4" y1="353.4" y2="353.4" stroke-width="0.9" stroke-opacity="0.95"/>
<line x1="125" x2="156.4" y1="377.6" y2="377.6" stroke-width="1.6" stroke-opacity="0.45"/>
<line x1="125" x2="156.4" y1="380.6" y2="380.6" stroke-width="0.8" stroke-opacity="0.55"/>
<line x1="125" x2="156.4" y1="394.7" y2="394.7" stroke-width="1.6" stroke-opacity="0.45"/>
<line x1="125" x2="156.4" y1="401.1" y2="401.1" stroke-width="0.8" stroke-opacity="0.55"/>
<line x1="125" x2="156.4" y1="419.7" y2="419.7" stroke-width="1.2" stroke-opacity="0.45"/>
<line x1="125" x2="156.4" y1="426.5" y2="426.5" stroke-width="1.0" stroke-opacity="0.95"/>
<line x1="125" x2="156.4" y1="431.8" y2="431.8" stroke-width="1.0" stroke-opacity="0.6"/>
<line x1="125" x2="156.4" y1="464.2" y2="464.2" stroke-width="0.9" stroke-opacity="0.9"/>
<line x1="125" x2="156.4" y1="469.4" y2="469.4" stroke-width="0.9" stroke-opacity="0.7"/>
<line x1="125" x2="156.4" y1="487" y2="487" stroke-width="0.9" stroke-opacity="0.6"/>
<line x1="125" x2="156.4" y1="519.8" y2="519.8" stroke-width="0.9" stroke-opacity="0.6"/>
<line x1="125" x2="156.4" y1="557.5" y2="557.5" stroke-width="0.9" stroke-opacity="0.75"/>
<line x1="125" x2="156.4" y1="562" y2="562" stroke-width="1.8" stroke-opacity="0.6"/>
<line x1="125" x2="156.4" y1="565.9" y2="565.9" stroke-width="0.9" stroke-opacity="0.7"/>
<line x1="125" x2="156.4" y1="569.4" y2="569.4" stroke-width="0.9" stroke-opacity="0.7"/>
<line x1="125" x2="156.4" y1="572.6" y2="572.6" stroke-width="0.9" stroke-opacity="0.7"/>
<line x1="125" x2="156.4" y1="575.6" y2="575.6" stroke-width="0.9" stroke-opacity="0.7"/>
<line x1="125" x2="156.4" y1="581.2" y2="581.2" stroke-width="0.9" stroke-opacity="0.8"/>
<line x1="125" x2="156.4" y1="586.4" y2="586.4" stroke-width="0.9" stroke-opacity="0.8"/>
</g>
<g font-size="13.6" fill="#222" text-anchor="middle">
<text transform="translate(42.5,398.7) scale(0.86,1)">1.01M</text>
<text transform="translate(90.3,347.2) scale(0.87,1)">1.28M</text>
<text transform="translate(140.3,317) scale(0.87,1)">1.45M</text>
<text transform="translate(189.9,179.7) scale(0.87,1)">2.18M</text>
</g>
<!-- flags -->
<g>
<rect x="24.3" y="592.4" width="32.6" height="23.4" fill="#fff" stroke="#999" stroke-width="0.6"/>
<rect x="24.6" y="600.2" width="32" height="7.8" fill="#1C49A8"/>
<rect x="24.6" y="608" width="32" height="7.5" fill="#D52B1E"/>
</g>
<g>
<rect x="74.8" y="594.4" width="32.4" height="19.3" fill="#fff"/>
<g fill="#C8374A">
<rect x="74.8" y="594.4" width="32.4" height="1.5"/><rect x="74.8" y="597.4" width="32.4" height="1.5"/><rect x="74.8" y="600.3" width="32.4" height="1.5"/><rect x="74.8" y="603.3" width="32.4" height="1.5"/><rect x="74.8" y="606.3" width="32.4" height="1.5"/><rect x="74.8" y="609.2" width="32.4" height="1.5"/><rect x="74.8" y="612.2" width="32.4" height="1.5"/>
</g>
<rect x="74.8" y="594.4" width="13.4" height="10.4" fill="#6A6FA4"/>
</g>
<g>
<rect x="125.1" y="593.5" width="32.4" height="23.4" fill="#0A3192"/>
<g fill="#E9C63A"><polygon points="148.50,604.10 148.75,604.86 149.55,604.86 148.90,605.33 149.15,606.09 148.50,605.62 147.85,606.09 148.10,605.33 147.45,604.86 148.25,604.86"/><polygon points="147.54,607.70 147.78,608.46 148.58,608.46 147.94,608.93 148.18,609.69 147.54,609.22 146.89,609.69 147.14,608.93 146.49,608.46 147.29,608.46"/><polygon points="144.90,610.34 145.15,611.10 145.95,611.10 145.30,611.57 145.55,612.33 144.90,611.86 144.25,612.33 144.50,611.57 143.85,611.10 144.65,611.10"/><polygon points="141.30,611.30 141.55,612.06 142.35,612.06 141.70,612.53 141.95,613.29 141.30,612.82 140.65,613.29 140.90,612.53 140.25,612.06 141.05,612.06"/><polygon points="137.70,610.34 137.95,611.10 138.75,611.10 138.10,611.57 138.35,612.33 137.70,611.86 137.05,612.33 137.30,611.57 136.65,611.10 137.45,611.10"/><polygon points="135.06,607.70 135.31,608.46 136.11,608.46 135.46,608.93 135.71,609.69 135.06,609.22 134.42,609.69 134.66,608.93 134.02,608.46 134.82,608.46"/><polygon points="134.10,604.10 134.35,604.86 135.15,604.86 134.50,605.33 134.75,606.09 134.10,605.62 133.45,606.09 133.70,605.33 133.05,604.86 133.85,604.86"/><polygon points="135.06,600.50 135.31,601.26 136.11,601.26 135.46,601.73 135.71,602.49 135.06,602.02 134.42,602.49 134.66,601.73 134.02,601.26 134.82,601.26"/><polygon points="137.70,597.86 137.95,598.62 138.75,598.62 138.10,599.09 138.35,599.85 137.70,599.38 137.05,599.85 137.30,599.09 136.65,598.62 137.45,598.62"/><polygon points="141.30,596.90 141.55,597.66 142.35,597.66 141.70,598.13 141.95,598.89 141.30,598.42 140.65,598.89 140.90,598.13 140.25,597.66 141.05,597.66"/><polygon points="144.90,597.86 145.15,598.62 145.95,598.62 145.30,599.09 145.55,599.85 144.90,599.38 144.25,599.85 144.50,599.09 143.85,598.62 144.65,598.62"/><polygon points="147.54,600.50 147.78,601.26 148.58,601.26 147.94,601.73 148.18,602.49 147.54,602.02 146.89,602.49 147.14,601.73 146.49,601.26 147.29,601.26"/></g>
</g>
<g>
<rect x="174.8" y="593.5" width="32.8" height="23" fill="#DE2910"/>
<polygon fill="#FFDE00" points="181.30,596.90 182.04,599.18 184.44,599.18 182.50,600.59 183.24,602.87 181.30,601.46 179.36,602.87 180.10,600.59 178.16,599.18 180.56,599.18"/>
<g fill="#FFDE00"><circle cx="186.6" cy="596.6" r="0.9"/><circle cx="189" cy="599" r="0.9"/><circle cx="189" cy="602.4" r="0.9"/><circle cx="186.6" cy="604.8" r="0.9"/></g>
</g>
<g font-size="14" fill="#222">
<text transform="translate(18.7,633.8) scale(0.89,1)">RUSSIA</text>
<text transform="translate(80.3,633.8) scale(0.89,1)">US</text>
<text transform="translate(133,633.8) scale(0.89,1)">EU</text>
<text transform="translate(172.6,633.8) scale(0.93,1)">CHINA</text>
</g>
<!-- footer -->
<text transform="translate(29.7,661) scale(0.972,1)" font-size="14.6" font-weight="bold" fill="#111">Subscribe at gzeromedia.com</text>
<text transform="translate(29.7,680.3) scale(1.0,1)" font-size="12" fill="#222">Note: All data for EU as of 2017; data for US, Russia, China as of 2018.</text>
<text transform="translate(29.7,696.4) scale(1.035,1)" font-size="12" fill="#222">Sources: Global Fire Power Index, International Institute for Strategic Studies</text>
<!-- logo -->
<clipPath id="lc"><rect x="550" y="662.6" width="100" height="31.5"/></clipPath>
<g fill="none" stroke-linecap="butt" stroke-linejoin="miter" stroke-miterlimit="20">
<g clip-path="url(#lc)">
<path d="M566.3 671 V669.5 C566.3 666 564 664.6 560.6 664.6 C557 664.6 555 666.5 555 670 C555 678.5 566.3 678 566.3 686.5 C566.3 690.3 564 692.1 560.5 692.1 C556.8 692.1 554.9 690.3 554.9 686.5 V684.5 M573.2 660 V696 M591.5 671.5 V670 C591.5 666.2 589.5 664.6 586 664.6 C582.5 664.6 580.7 666.5 580.7 670 V686.5 C580.7 690.2 582.5 692.1 586 692.1 C589.5 692.1 591.5 690.2 591.5 686.5 V679.5 H586 M600.1 700 V656 L610 700 V656 M615.5 700 L623.3 663.5 L631.2 700 M619.2 684.5 H627.4 M637 660 V692 H646" stroke="#2b2b2b" stroke-width="4.2"/>
<path d="M566.3 671 V669.5 C566.3 666 564 664.6 560.6 664.6 C557 664.6 555 666.5 555 670 C555 678.5 566.3 678 566.3 686.5 C566.3 690.3 564 692.1 560.5 692.1 C556.8 692.1 554.9 690.3 554.9 686.5 V684.5 M573.2 660 V696 M591.5 671.5 V670 C591.5 666.2 589.5 664.6 586 664.6 C582.5 664.6 580.7 666.5 580.7 670 V686.5 C580.7 690.2 582.5 692.1 586 692.1 C589.5 692.1 591.5 690.2 591.5 686.5 V679.5 H586 M600.1 700 V656 L610 700 V656 M615.5 700 L623.3 663.5 L631.2 700 M619.2 684.5 H627.4 M637 660 V692 H646" stroke="#fff" stroke-width="1.7"/>
<path d="M566.3 671 V669.5 C566.3 666 564 664.6 560.6 664.6 C557 664.6 555 666.5 555 670 C555 678.5 566.3 678 566.3 686.5 C566.3 690.3 564 692.1 560.5 692.1 C556.8 692.1 554.9 690.3 554.9 686.5 V684.5 M573.2 660 V696 M591.5 671.5 V670 C591.5 666.2 589.5 664.6 586 664.6 C582.5 664.6 580.7 666.5 580.7 670 V686.5 C580.7 690.2 582.5 692.1 586 692.1 C589.5 692.1 591.5 690.2 591.5 686.5 V679.5 H586 M600.1 700 V656 L610 700 V656 M615.5 700 L623.3 663.5 L631.2 700 M619.2 684.5 H627.4 M637 660 V692 H646" stroke="#2b2b2b" stroke-width="0.7"/>
</g>
<circle cx="573.2" cy="657.4" r="2.6" stroke="#2B3F8C" stroke-width="1.1" fill="#fff"/>
</g>
</svg>
</body></html>
